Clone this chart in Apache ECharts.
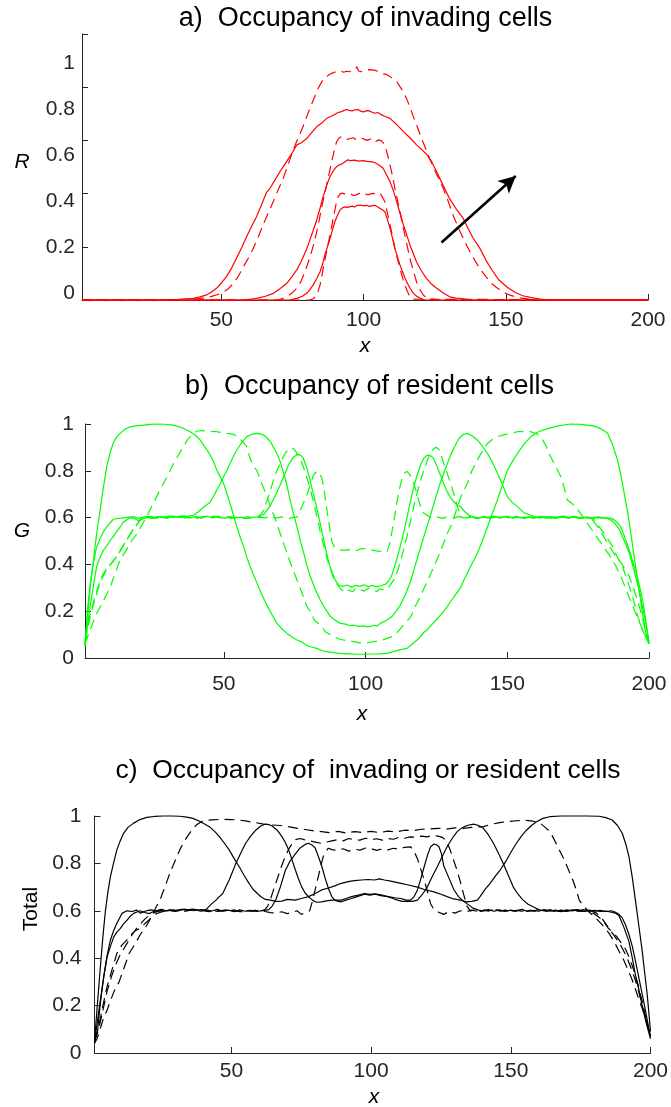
<!DOCTYPE html>
<html>
<head>
<meta charset="utf-8">
<script src="https://cdn.jsdelivr.net/npm/echarts@6/dist/echarts.min.js"></script>
<style>
html,body{margin:0;padding:0;background:#fff;}
#chart{width:671px;height:1107px;}
</style>
</head>
<body>
<div id="chart"></div>
<script>
// ---------- tick values ----------
const xTickValues = [50, 100, 150, 200];
const yTickValues = [0, 0.2, 0.4, 0.6, 0.8, 1];

// ---------- titles / axis names ----------
const titles = ['a)  Occupancy of invading cells', 'b)  Occupancy of resident cells', 'c)  Occupancy of  invading or resident cells'];
const yNames = ['R', 'G', 'Total'];
const xName = 'x';

// ---------- panel a : R (invading cells), [x, value] ----------
const R_t1_solid = [[1,0],[74,0],[76.5,0.006],[78.5,0.014],[80,0.025],[81.2,0.04],[82.3,0.057],[83.5,0.08],[84.7,0.106],[85.6,0.136],[86.4,0.17],[87.3,0.2],[88.2,0.231],[89,0.262],[89.9,0.294],[90.8,0.318],[91.7,0.338],[92.5,0.346],[93.4,0.35],[94.3,0.348],[95,0.355],[96,0.353],[96.8,0.35],[97.8,0.356],[99,0.357],[100,0.354],[101,0.356],[102,0.352],[103,0.355],[104,0.356],[105,0.35],[105.8,0.344],[106.7,0.338],[107.5,0.332],[108.4,0.302],[109.3,0.269],[110.2,0.232],[111,0.194],[111.9,0.162],[112.8,0.132],[114,0.098],[115.1,0.069],[116.3,0.045],[117.5,0.025],[118.7,0.014],[119.8,0.007],[121,0.002],[122,0],[200,0]];
const R_t1_dashed = [[1,0],[81,0],[82.3,0.004],[83.5,0.019],[84.1,0.036],[84.7,0.057],[85.3,0.088],[85.8,0.119],[86.4,0.15],[87,0.182],[87.6,0.214],[88.2,0.245],[88.8,0.276],[89.3,0.307],[89.9,0.338],[90.5,0.369],[91.1,0.388],[91.7,0.398],[92.5,0.402],[93.5,0.398],[94.5,0.396],[95.5,0.399],[96.5,0.392],[97.5,0.396],[98.5,0.401],[99.5,0.397],[100.5,0.4],[101.5,0.395],[102.5,0.399],[103.5,0.401],[104.5,0.393],[105.2,0.39],[106,0.398],[106.7,0.385],[107.5,0.369],[108.4,0.326],[109.3,0.283],[110.2,0.238],[111,0.194],[111.9,0.155],[112.8,0.119],[113.6,0.088],[114.5,0.057],[115.4,0.032],[116.3,0.012],[117.3,0.003],[118,0],[200,0]];
const R_t2_solid = [[1,0],[58,0],[62.4,0.006],[65.5,0.014],[68.3,0.025],[70.6,0.042],[72.9,0.062],[74.7,0.086],[76.5,0.113],[77.7,0.137],[78.8,0.163],[80,0.192],[81.1,0.225],[82.3,0.262],[83.5,0.3],[84.7,0.345],[85.8,0.389],[87,0.43],[88.2,0.464],[89.3,0.485],[90.5,0.501],[91.5,0.508],[92.5,0.512],[93.5,0.52],[94.5,0.527],[95.3,0.524],[96,0.521],[96.8,0.526],[97.5,0.527],[98.3,0.522],[99,0.52],[99.8,0.524],[100.5,0.525],[101.3,0.521],[102,0.523],[103,0.519],[104,0.516],[105,0.51],[106,0.503],[106.9,0.495],[108,0.472],[109.3,0.445],[110.5,0.41],[111.6,0.371],[112.8,0.327],[114,0.283],[115.2,0.244],[116.3,0.207],[117.5,0.174],[118.6,0.144],[120.3,0.11],[122.1,0.081],[123.9,0.06],[125.7,0.044],[128,0.026],[130.3,0.012],[132.5,0.007],[135,0.004],[138,0],[200,0]];
const R_t2_dashed = [[1,0],[70,0],[73,0.012],[74.8,0.026],[76.5,0.044],[78,0.07],[79.4,0.106],[80.5,0.14],[81.7,0.181],[82.6,0.215],[83.5,0.256],[84.4,0.3],[85.2,0.345],[86.1,0.39],[87,0.433],[87.9,0.477],[88.8,0.52],[89.6,0.558],[90.5,0.595],[91.3,0.608],[92.3,0.614],[93.3,0.608],[94.3,0.604],[95.3,0.607],[96.3,0.61],[97.3,0.603],[98.3,0.606],[99.3,0.609],[100.3,0.604],[101.3,0.6],[102.3,0.605],[103.3,0.607],[104.3,0.596],[105.3,0.602],[106.3,0.598],[107.5,0.583],[108.4,0.547],[109.3,0.507],[110.2,0.464],[111,0.42],[111.9,0.376],[112.8,0.332],[113.6,0.288],[114.5,0.245],[115.4,0.2],[116.3,0.156],[117.5,0.11],[118.6,0.069],[119.8,0.04],[121,0.018],[122.5,0.008],[124,0.004],[126,0],[200,0]];
const R_t3_solid = [[1,0],[30,0],[35,0.002],[40.1,0.006],[42.5,0.012],[44.8,0.019],[46.5,0.03],[48.3,0.044],[50,0.064],[51.8,0.088],[53.6,0.12],[55.4,0.159],[57.2,0.198],[58.9,0.239],[60.6,0.276],[62.4,0.314],[64.2,0.36],[65.9,0.405],[67.1,0.42],[68.5,0.445],[70.6,0.482],[72.3,0.51],[74.1,0.54],[75.3,0.56],[76.5,0.583],[78,0.59],[80,0.607],[81.8,0.63],[83.5,0.651],[85.3,0.665],[87,0.683],[88.5,0.69],[90,0.698],[91,0.705],[92,0.707],[93,0.712],[94,0.716],[95,0.713],[96,0.711],[97,0.715],[98,0.716],[99,0.71],[100,0.707],[101,0.712],[102,0.711],[103,0.706],[104,0.702],[105,0.705],[106,0.698],[107.6,0.69],[109.3,0.683],[111.6,0.66],[114,0.633],[116.3,0.61],[118.6,0.583],[120.3,0.567],[122.1,0.548],[123.9,0.52],[125.7,0.482],[128,0.43],[130.3,0.38],[132.6,0.342],[135,0.307],[136.7,0.27],[138.4,0.235],[140.9,0.194],[143,0.15],[145.3,0.11],[147.6,0.075],[150.5,0.048],[153.5,0.027],[156,0.016],[159,0.009],[163,0.002],[166,0],[200,0]];
const R_t3_dashed = [[1,0],[38,0],[42,0.005],[46,0.012],[50.1,0.025],[52.2,0.04],[54.2,0.062],[56,0.09],[57.7,0.124],[59.5,0.158],[61.2,0.194],[63,0.238],[64.7,0.283],[66.5,0.327],[68.3,0.371],[70,0.415],[71.8,0.459],[73.5,0.51],[75.3,0.565],[77,0.61],[78.8,0.654],[80.5,0.703],[82.3,0.751],[84,0.795],[85.8,0.83],[87,0.84],[88,0.848],[89,0.853],[90,0.857],[91,0.86],[92,0.861],[93,0.856],[94,0.86],[95,0.858],[96,0.863],[97,0.867],[97.6,0.877],[98.2,0.862],[99,0.858],[100,0.86],[101,0.862],[102,0.866],[103,0.865],[104,0.863],[105,0.86],[106,0.856],[107,0.85],[108,0.848],[109.3,0.84],[110.5,0.83],[111.6,0.822],[113.4,0.792],[115.1,0.758],[116.8,0.71],[118.6,0.658],[120.9,0.594],[123.3,0.53],[125.6,0.475],[128,0.42],[129.8,0.37],[131.5,0.318],[133.8,0.26],[136.2,0.206],[138.5,0.16],[140.9,0.118],[143,0.088],[145,0.062],[147,0.045],[149,0.031],[151,0.02],[153,0.013],[155,0.008],[157,0.005],[160,0],[200,0]];
const arrowFrom = [127.4, 0.216];
const arrowTo = [153.5, 0.466];

// ---------- panel b : G (resident cells) ----------
const G_t1_solid = [[1,0.05],[2,0.22],[3,0.33],[4,0.41],[5,0.47],[6.3,0.51],[7.5,0.54],[8.7,0.56],[10,0.58],[11,0.593],[12.5,0.597],[14,0.598],[16,0.601],[18,0.604],[20,0.597],[22,0.603],[24,0.606],[26,0.598],[28,0.604],[30,0.6],[32,0.607],[34,0.601],[36,0.605],[38,0.598],[40,0.604],[42,0.6],[44,0.606],[46,0.599],[48,0.603],[50,0.597],[52,0.604],[54,0.599],[56,0.602],[58,0.596],[60,0.601],[61.5,0.603],[62.8,0.605],[64.5,0.62],[66.3,0.65],[68,0.69],[69.9,0.74],[71.5,0.785],[72.8,0.825],[74.3,0.855],[75.8,0.87],[77,0.868],[78,0.855],[79.3,0.81],[80.2,0.77],[81.1,0.725],[82,0.68],[82.8,0.64],[83.7,0.59],[84.6,0.54],[85.5,0.49],[86.4,0.44],[87.2,0.4],[88.1,0.369],[89.2,0.335],[90.5,0.312],[92,0.306],[93.5,0.312],[95,0.303],[96.5,0.31],[98,0.306],[99.5,0.313],[101,0.305],[102.5,0.31],[104,0.304],[105.5,0.31],[107,0.315],[107.6,0.319],[108.5,0.335],[109.3,0.355],[110.2,0.39],[111.1,0.426],[112.3,0.48],[113.5,0.54],[114.7,0.605],[115.8,0.668],[117,0.73],[118.2,0.782],[119.4,0.825],[120.5,0.853],[121.5,0.865],[122.3,0.867],[123.2,0.862],[124,0.853],[125.2,0.82],[126.4,0.782],[127.6,0.745],[128.8,0.71],[130,0.685],[131.1,0.668],[132.3,0.655],[133.5,0.647],[135,0.625],[136.5,0.61],[138,0.603],[140,0.599],[142,0.604],[144,0.597],[146,0.603],[148,0.6],[150,0.606],[152,0.598],[154,0.603],[156,0.596],[158,0.602],[160,0.599],[162,0.605],[164,0.598],[166,0.603],[168,0.6],[170,0.606],[172,0.599],[174,0.604],[176,0.597],[178,0.602],[180,0.599],[182,0.603],[184,0.6],[186,0.598],[187,0.596],[188.7,0.58],[190,0.56],[191.3,0.52],[192.5,0.48],[193.6,0.44],[194.8,0.39],[196,0.34],[197,0.29],[197.7,0.25],[198.5,0.19],[199.3,0.12],[200,0.06]];
const G_t2_solid = [[1,0.05],[2,0.15],[2.8,0.22],[4,0.31],[5.1,0.39],[6.3,0.43],[7.5,0.46],[8.7,0.48],[9.8,0.5],[11,0.52],[12.2,0.54],[13.4,0.56],[14.5,0.58],[15.7,0.59],[16.9,0.6],[18.5,0.595],[20,0.587],[21.5,0.595],[23,0.601],[25,0.597],[27,0.604],[29,0.599],[31,0.606],[33,0.602],[35,0.607],[37,0.605],[39.3,0.61],[41,0.625],[42.8,0.645],[44,0.655],[45.2,0.667],[46.3,0.69],[47.5,0.718],[48.7,0.745],[49.9,0.775],[51,0.8],[52.2,0.832],[53.4,0.862],[54.6,0.89],[56.3,0.92],[58.1,0.946],[60,0.957],[61.7,0.96],[63,0.958],[64,0.953],[65.2,0.94],[66.4,0.925],[67.5,0.9],[68.7,0.875],[70,0.835],[71.1,0.79],[72.3,0.735],[73.4,0.675],[74.6,0.615],[75.8,0.56],[77,0.5],[78.2,0.447],[79.3,0.395],[80.5,0.348],[82.2,0.295],[84,0.248],[85.8,0.21],[87.6,0.177],[89.4,0.16],[91.1,0.148],[93,0.145],[94.5,0.138],[95.8,0.141],[97.5,0.135],[99.3,0.137],[101,0.133],[103,0.14],[104,0.137],[105.2,0.148],[107.3,0.16],[109.3,0.177],[110.8,0.2],[112.3,0.227],[114,0.27],[115.8,0.326],[117.5,0.395],[119.3,0.468],[121.1,0.54],[122.9,0.61],[124.6,0.68],[126.4,0.75],[128.2,0.81],[130,0.867],[131.5,0.905],[132.9,0.938],[134.5,0.955],[135.9,0.96],[137.5,0.95],[139.4,0.932],[141.2,0.905],[143,0.875],[144.8,0.835],[146.5,0.79],[148.3,0.74],[150,0.69],[151.8,0.665],[153.6,0.647],[155.9,0.62],[157.7,0.612],[159.5,0.604],[161.5,0.598],[163.5,0.604],[165.5,0.597],[167.5,0.602],[169.5,0.606],[171.5,0.598],[173.5,0.603],[175.5,0.597],[177.5,0.601],[179.5,0.596],[181.5,0.6],[183.5,0.598],[185,0.597],[186.5,0.59],[188,0.575],[189.5,0.55],[191.3,0.5],[193,0.45],[194.8,0.37],[196.3,0.3],[197.7,0.22],[199,0.14],[200,0.07]];
const G_t3_solid = [[1,0.06],[2,0.2],[3,0.32],[4,0.42],[5.1,0.53],[6.3,0.63],[7.5,0.73],[8.7,0.82],[9.8,0.875],[11,0.92],[12.2,0.945],[13.4,0.96],[15,0.977],[16.9,0.988],[19,0.992],[21.6,0.995],[24,0.998],[26.3,1],[29,0.999],[32.2,0.995],[35,0.985],[38.1,0.967],[40,0.952],[41.6,0.932],[43.4,0.9],[45.2,0.868],[46.3,0.84],[47.5,0.803],[48.7,0.775],[49.9,0.746],[51,0.705],[52.2,0.66],[53.4,0.61],[54.6,0.56],[55.8,0.515],[57,0.476],[58.1,0.43],[59.3,0.39],[60.5,0.355],[61.7,0.32],[63.4,0.27],[65.2,0.225],[67,0.185],[68.7,0.148],[70.5,0.125],[72.3,0.105],[74,0.09],[75.8,0.077],[77.5,0.068],[79,0.055],[80.5,0.048],[82.8,0.041],[85,0.03],[86.4,0.027],[88.7,0.023],[91,0.02],[94,0.018],[97,0.016],[99.3,0.016],[102,0.017],[105,0.018],[107.6,0.02],[110,0.028],[112,0.035],[114.6,0.041],[116.5,0.06],[118.5,0.08],[120.6,0.11],[121.7,0.12],[123.5,0.145],[125.5,0.17],[127.6,0.2],[128.8,0.22],[130.5,0.25],[132,0.275],[133.5,0.3],[134.7,0.333],[137,0.39],[139.4,0.447],[141.2,0.5],[143,0.56],[144.8,0.62],[146.5,0.675],[148.3,0.74],[150,0.8],[151.8,0.84],[153.6,0.875],[156,0.915],[158.3,0.946],[161,0.967],[164.2,0.98],[168,0.992],[172.4,1],[176,0.998],[180.7,0.991],[183,0.98],[185.4,0.96],[187.2,0.91],[188.9,0.846],[190.1,0.78],[191.3,0.7],[192.5,0.62],[193.6,0.532],[194.8,0.43],[196,0.33],[196.9,0.26],[197.7,0.19],[198.5,0.13],[199.3,0.08],[200,0.06]];
const G_t1_dashed = [[1,0.08],[2.5,0.17],[4,0.24],[5.5,0.3],[7,0.35],[8.5,0.38],[10,0.4],[10.8,0.41],[12,0.43],[13.5,0.46],[15,0.49],[16.5,0.52],[18,0.55],[19.5,0.575],[21,0.6],[22.5,0.603],[24.5,0.597],[26.5,0.604],[28.5,0.599],[30.5,0.606],[32.5,0.6],[34.5,0.605],[36.5,0.598],[38.5,0.603],[40.5,0.597],[42.5,0.604],[44.5,0.6],[46.5,0.607],[48.5,0.599],[50.5,0.603],[52.5,0.596],[54.5,0.601],[56.5,0.598],[58.5,0.604],[60.5,0.597],[62.5,0.602],[64.5,0.599],[66.5,0.606],[68.5,0.598],[70.5,0.603],[72.5,0.595],[74,0.6],[75.8,0.602],[77.5,0.645],[79.3,0.697],[80.5,0.74],[81.6,0.782],[82.8,0.798],[83.7,0.79],[84.6,0.768],[85.2,0.73],[85.8,0.682],[86.4,0.63],[87,0.583],[87.6,0.535],[88.1,0.497],[89,0.475],[89.9,0.468],[91,0.462],[92.3,0.46],[94,0.463],[95.5,0.458],[97,0.46],[98.3,0.466],[99.3,0.468],[101,0.465],[102.8,0.46],[104.5,0.457],[106,0.455],[107.6,0.454],[108.5,0.49],[109.3,0.54],[110.2,0.6],[111.1,0.668],[112,0.725],[112.9,0.768],[113.8,0.79],[114.6,0.798],[115.5,0.785],[116.4,0.768],[117.3,0.735],[118.2,0.697],[119.1,0.66],[120,0.625],[121.7,0.61],[123,0.6],[125,0.604],[127,0.597],[129,0.603],[131,0.598],[133,0.605],[135,0.6],[137,0.604],[139,0.597],[141,0.603],[143,0.599],[145,0.606],[147,0.6],[149,0.604],[151,0.597],[153,0.602],[155,0.599],[157,0.605],[159,0.598],[161,0.603],[163,0.6],[165,0.604],[167,0.597],[169,0.602],[171,0.599],[173,0.603],[175,0.598],[177,0.601],[178.5,0.6],[179.5,0.598],[181,0.575],[182.5,0.55],[184,0.52],[185.5,0.49],[187,0.46],[188.5,0.43],[190,0.41],[191.5,0.38],[193,0.35],[194.5,0.3],[196,0.245],[197.5,0.18],[199,0.11],[200,0.07]];
const G_t2_dashed = [[1,0.07],[2.5,0.16],[4,0.23],[5.5,0.29],[7,0.34],[8.5,0.375],[10,0.4],[11.5,0.425],[13,0.45],[14.5,0.48],[16,0.51],[17.5,0.54],[19,0.565],[20.5,0.59],[22,0.6],[24,0.604],[26,0.598],[28,0.603],[30,0.597],[32,0.605],[34,0.6],[36,0.606],[38,0.599],[40,0.603],[42,0.598],[44,0.604],[46,0.6],[48,0.606],[50,0.598],[52,0.603],[54,0.597],[56,0.602],[58,0.596],[60,0.601],[62,0.603],[63,0.615],[64,0.63],[65,0.665],[66,0.7],[67,0.74],[68,0.78],[69.3,0.815],[70.5,0.85],[71.8,0.878],[73,0.895],[74,0.898],[75,0.89],[76,0.87],[76.9,0.854],[78.1,0.815],[79.3,0.77],[80.5,0.72],[81.6,0.668],[82.8,0.605],[84,0.54],[85.2,0.48],[86.4,0.426],[87.6,0.38],[88.7,0.34],[90,0.315],[91.1,0.297],[92.8,0.278],[94,0.29],[95.5,0.283],[96.5,0.3],[98,0.292],[99.5,0.286],[101,0.298],[102.5,0.29],[104,0.284],[105,0.296],[106.5,0.29],[107.9,0.297],[109,0.318],[110.3,0.34],[111.5,0.38],[112.6,0.426],[113.8,0.48],[115,0.54],[116.2,0.605],[117.4,0.668],[118.5,0.72],[119.7,0.77],[120.9,0.815],[122.1,0.854],[123,0.875],[124.1,0.895],[125,0.9],[126,0.89],[127.6,0.83],[128.8,0.79],[130,0.745],[131.2,0.7],[132.4,0.647],[133.2,0.62],[134.1,0.6],[135.5,0.598],[137.5,0.604],[139.5,0.597],[141.5,0.603],[143.5,0.599],[145.5,0.605],[147.5,0.598],[149.5,0.604],[151.5,0.6],[153.5,0.606],[155.5,0.598],[157.5,0.603],[159.5,0.597],[161.5,0.602],[163.5,0.599],[165.5,0.604],[167.5,0.598],[169.5,0.603],[171.5,0.6],[173.5,0.605],[175.5,0.598],[177.5,0.602],[179,0.6],[180.7,0.59],[182.5,0.56],[184,0.535],[185.4,0.51],[187,0.48],[188.9,0.43],[190.5,0.395],[192.4,0.33],[194,0.27],[196,0.18],[198,0.11],[200,0.07]];
const G_t3_dashed = [[1,0.06],[1.6,0.08],[3.3,0.135],[5.1,0.19],[7.5,0.245],[9.8,0.3],[11.6,0.36],[13.4,0.42],[15.5,0.46],[17.4,0.5],[19.3,0.53],[21.4,0.575],[23.4,0.62],[25.5,0.67],[27.5,0.72],[30,0.775],[32.2,0.83],[34.6,0.88],[37,0.93],[38.8,0.955],[40.5,0.97],[43,0.972],[45,0.968],[47.5,0.967],[50,0.962],[53.4,0.956],[55.8,0.935],[57,0.92],[58.1,0.903],[59.3,0.85],[60.5,0.82],[61.7,0.8],[63.4,0.745],[65.2,0.69],[67,0.63],[68.7,0.575],[70.5,0.51],[72.3,0.447],[74,0.39],[75.8,0.333],[77.5,0.28],[79.3,0.22],[80.5,0.2],[82,0.16],[84,0.141],[86,0.11],[88.7,0.091],[91,0.08],[93,0.075],[95.8,0.07],[98,0.065],[100.5,0.065],[103,0.07],[105.5,0.075],[107.6,0.084],[109,0.09],[110.5,0.1],[112.3,0.126],[114,0.15],[115.9,0.175],[117.5,0.22],[119.4,0.265],[121.7,0.326],[124.1,0.39],[126.4,0.455],[128.8,0.532],[130.5,0.575],[132.4,0.647],[134,0.7],[135.9,0.746],[137.5,0.8],[139.4,0.846],[141,0.88],[143,0.917],[144.8,0.935],[146.5,0.946],[150,0.958],[153.6,0.967],[156,0.967],[158.3,0.967],[160,0.96],[161.8,0.946],[163.5,0.91],[165.3,0.86],[167,0.82],[168.9,0.775],[170,0.73],[171.2,0.675],[172.8,0.66],[174.2,0.647],[176,0.615],[178,0.58],[180,0.545],[182,0.51],[184,0.475],[186,0.44],[188,0.4],[190,0.35],[192,0.29],[194,0.23],[196,0.17],[198,0.115],[200,0.06]];

// ---------- panel c : Total ----------
const T_t1_solid = [[1,0.05],[2,0.083],[3.1,0.21],[4.3,0.322],[5.5,0.41],[6.7,0.477],[7.8,0.515],[9,0.547],[10,0.57],[10.8,0.589],[12.6,0.6],[14.5,0.597],[16,0.603],[17.5,0.59],[19,0.598],[21,0.604],[23,0.6],[25,0.606],[27,0.599],[29,0.604],[31,0.601],[33,0.607],[35,0.603],[37,0.605],[39,0.598],[41,0.604],[43,0.599],[45,0.606],[47,0.598],[49,0.603],[51,0.596],[53,0.604],[55,0.598],[57,0.602],[59,0.597],[61,0.601],[62.5,0.603],[63.4,0.605],[64.6,0.62],[66,0.65],[67.5,0.7],[69.3,0.77],[71,0.81],[72.9,0.84],[74.6,0.865],[76.4,0.88],[77.6,0.885],[78.8,0.878],[80,0.865],[81.1,0.83],[82.3,0.79],[83.5,0.74],[84.7,0.695],[85.9,0.66],[87,0.645],[88.2,0.64],[89.4,0.638],[91,0.645],[93,0.652],[95,0.66],[97.7,0.67],[99.5,0.666],[101.5,0.67],[103.5,0.664],[106,0.66],[108.5,0.655],[110.7,0.652],[112.5,0.645],[114.2,0.645],[115.4,0.66],[116.6,0.688],[117.8,0.735],[119,0.786],[120.2,0.835],[121.3,0.87],[122.5,0.882],[123.5,0.878],[124.3,0.87],[125.2,0.84],[126,0.79],[127.8,0.74],[129.6,0.69],[131.3,0.66],[133.1,0.64],[134.9,0.625],[136.7,0.61],[138.5,0.603],[140,0.6],[142,0.605],[144,0.598],[146,0.604],[148,0.597],[150,0.603],[152,0.599],[154,0.606],[156,0.597],[158,0.602],[160,0.598],[162,0.605],[164,0.599],[166,0.603],[168,0.596],[170,0.604],[172,0.6],[174,0.605],[176,0.597],[178,0.603],[180,0.599],[182,0.602],[184,0.597],[186,0.6],[187.5,0.594],[188.7,0.585],[189.9,0.57],[191.1,0.54],[192.3,0.5],[193.5,0.45],[194.6,0.39],[195.8,0.32],[197,0.25],[198.2,0.18],[199.3,0.11],[200,0.07]];
const T_t2_solid = [[1,0.05],[2,0.13],[3.1,0.223],[4.3,0.32],[5.5,0.406],[6.7,0.45],[7.9,0.49],[9,0.51],[10.2,0.525],[11.4,0.545],[12.6,0.56],[13.8,0.577],[15,0.589],[16.2,0.595],[17.3,0.6],[19,0.593],[20.5,0.588],[22,0.596],[24,0.602],[26,0.598],[28,0.604],[30,0.6],[32,0.606],[34,0.603],[36,0.607],[38,0.604],[40.9,0.605],[42.5,0.625],[44.5,0.645],[45.7,0.66],[46.9,0.673],[48,0.7],[49.2,0.73],[50.4,0.765],[51.6,0.8],[53.4,0.845],[55.1,0.885],[56.9,0.915],[58.7,0.94],[60.5,0.958],[62.2,0.966],[63.4,0.964],[64.6,0.958],[66.4,0.94],[68.1,0.913],[69.3,0.888],[70.5,0.857],[71.7,0.815],[72.9,0.772],[74,0.735],[75.2,0.7],[76.4,0.675],[77.6,0.66],[79,0.645],[80,0.638],[81,0.636],[82.3,0.638],[84,0.642],[85.9,0.645],[87.5,0.645],[89.4,0.645],[91,0.652],[93,0.66],[95,0.665],[97.7,0.673],[99.5,0.669],[101.5,0.672],[103.5,0.667],[106,0.66],[107.8,0.652],[109.5,0.645],[111.2,0.64],[113,0.64],[114.8,0.64],[116.6,0.645],[118.4,0.67],[120.1,0.7],[121.9,0.745],[123.7,0.786],[125.5,0.83],[127.2,0.87],[129,0.905],[130.8,0.934],[132.5,0.95],[134.3,0.96],[136.7,0.966],[138.5,0.96],[140.2,0.948],[142,0.92],[143.8,0.885],[145.5,0.845],[147.3,0.8],[149.1,0.75],[150.9,0.7],[152.6,0.67],[154.4,0.645],[156.2,0.628],[158,0.617],[160,0.605],[162,0.599],[164,0.604],[166,0.598],[168,0.603],[170,0.597],[172,0.604],[174,0.6],[176,0.605],[178,0.598],[180,0.602],[182,0.597],[184,0.599],[186,0.594],[187.5,0.59],[188.7,0.58],[190.5,0.53],[192.3,0.47],[193.5,0.4],[194.6,0.33],[195.8,0.27],[197,0.2],[198.2,0.14],[199.3,0.09],[200,0.06]];
const T_t3_solid = [[1,0.05],[2,0.2],[3.1,0.364],[4,0.49],[4.9,0.6],[5.8,0.68],[6.7,0.744],[7.8,0.8],[9,0.857],[10.2,0.895],[11.4,0.927],[13,0.952],[15,0.97],[17.3,0.985],[19.7,0.994],[22.5,0.998],[25.6,1],[28.5,1],[31.5,0.999],[34,0.995],[36.2,0.99],[38.6,0.978],[40.4,0.966],[42.1,0.955],[44,0.935],[45.7,0.913],[47.5,0.885],[49.2,0.857],[51,0.82],[52.8,0.786],[54.5,0.75],[56.3,0.716],[57.8,0.69],[59.3,0.673],[60.8,0.657],[62.2,0.648],[64,0.645],[66,0.64],[68.1,0.641],[70,0.648],[72.9,0.645],[75,0.652],[77.6,0.66],[80,0.673],[82.3,0.688],[84.5,0.695],[87,0.705],[89,0.715],[91.8,0.723],[94,0.727],[96.5,0.73],[98.9,0.732],[101.2,0.73],[103,0.735],[104.8,0.73],[107,0.725],[110.7,0.716],[113,0.71],[116.6,0.7],[119,0.69],[122.5,0.68],[125,0.67],[127.2,0.66],[129.5,0.65],[132,0.645],[134,0.638],[136,0.64],[138,0.645],[139,0.66],[140.8,0.69],[142.6,0.716],[144.4,0.745],[146.2,0.772],[148.5,0.814],[150.2,0.85],[152,0.885],[153.8,0.915],[155.6,0.94],[157.4,0.96],[159.2,0.976],[161.5,0.99],[163.9,0.997],[168,1],[172.2,1],[177,1],[181.6,0.999],[184,0.993],[186.3,0.983],[188.2,0.96],[189.9,0.927],[191.2,0.88],[192.3,0.828],[193.5,0.74],[194.6,0.645],[195.8,0.54],[197,0.434],[198,0.33],[198.8,0.25],[199.5,0.16],[200,0.09]];
const T_t1_dashed = [[1,0.06],[2.5,0.11],[4,0.2],[5.5,0.28],[7,0.34],[8,0.38],[9,0.42],[10.8,0.455],[12.6,0.477],[13.8,0.495],[15,0.51],[16.2,0.52],[17.3,0.525],[18.5,0.54],[19.7,0.553],[21,0.567],[22,0.58],[23.2,0.588],[24.4,0.593],[26,0.598],[28,0.603],[30,0.597],[32,0.604],[34,0.599],[36,0.605],[38,0.598],[40,0.602],[42,0.596],[44,0.603],[46,0.598],[48,0.604],[50,0.597],[52,0.601],[54,0.595],[56,0.602],[58,0.598],[60,0.603],[62,0.597],[64,0.592],[66,0.59],[68,0.596],[70,0.588],[72,0.594],[73.5,0.6],[75,0.585],[76.5,0.592],[78,0.6],[79,0.64],[80,0.69],[81.1,0.744],[82,0.79],[82.9,0.83],[83.8,0.85],[84.7,0.864],[86,0.858],[88,0.855],[90,0.862],[92,0.852],[94,0.86],[96,0.856],[98,0.865],[100,0.862],[102,0.855],[104,0.862],[106,0.857],[108,0.864],[110,0.86],[112,0.868],[114.2,0.87],[115.4,0.85],[116.6,0.82],[117.8,0.775],[119,0.73],[120.2,0.68],[121.3,0.63],[122.5,0.605],[124,0.595],[126,0.585],[128,0.598],[130,0.59],[132,0.6],[134,0.596],[136,0.603],[138,0.598],[140,0.604],[142,0.599],[144,0.605],[146,0.598],[148,0.603],[150,0.597],[152,0.602],[154,0.598],[156,0.604],[158,0.599],[160,0.605],[162,0.598],[164,0.603],[166,0.597],[168,0.602],[170,0.598],[172,0.603],[174,0.599],[176,0.598],[177,0.598],[178.6,0.593],[179.8,0.588],[181,0.578],[182.3,0.565],[183.5,0.55],[185,0.525],[186.5,0.51],[188,0.49],[189.5,0.465],[191,0.44],[192.5,0.4],[194,0.35],[195.5,0.29],[197,0.22],[198.5,0.14],[200,0.07]];
const T_t2_dashed = [[1,0.05],[2.5,0.1],[4,0.18],[5.5,0.26],[7,0.32],[8.5,0.37],[10,0.41],[11.5,0.44],[13,0.47],[14.5,0.5],[16,0.525],[17.5,0.545],[19,0.565],[20.5,0.58],[22,0.59],[23.5,0.597],[25,0.6],[27,0.604],[29,0.598],[31,0.603],[33,0.597],[35,0.604],[37,0.599],[39,0.605],[41,0.598],[43,0.603],[45,0.597],[47,0.602],[49,0.599],[51,0.604],[53,0.596],[55,0.601],[57,0.598],[59,0.603],[61,0.6],[62,0.605],[63,0.62],[64,0.65],[65,0.685],[66,0.72],[67,0.755],[68,0.79],[69.3,0.83],[70.5,0.86],[71.8,0.885],[73,0.9],[74.5,0.905],[76,0.9],[78,0.895],[80,0.89],[82,0.885],[84,0.89],[86,0.895],[88,0.9],[90,0.895],[92,0.905],[94,0.9],[96,0.898],[98,0.906],[100,0.9],[102,0.904],[104,0.898],[106,0.905],[108,0.902],[110,0.91],[112,0.906],[114,0.912],[116,0.91],[118,0.915],[120,0.912],[122,0.918],[124,0.915],[125.5,0.91],[127,0.895],[128.2,0.86],[129.5,0.815],[130.8,0.77],[132,0.72],[133.1,0.67],[134.3,0.62],[135.5,0.6],[137,0.603],[139,0.597],[141,0.602],[143,0.598],[145,0.604],[147,0.599],[149,0.605],[151,0.598],[153,0.603],[155,0.597],[157,0.602],[159,0.599],[161,0.604],[163,0.598],[165,0.603],[167,0.597],[169,0.602],[171,0.598],[173,0.604],[175,0.599],[177,0.601],[179,0.598],[180.7,0.59],[182.5,0.57],[184,0.545],[185.5,0.52],[187,0.495],[188.5,0.47],[190,0.44],[191.5,0.405],[193,0.36],[194.5,0.31],[196,0.25],[197.5,0.18],[199,0.11],[200,0.07]];
const T_t3_dashed = [[1,0.04],[1.9,0.06],[3,0.1],[4.3,0.15],[5.5,0.18],[6.7,0.22],[8,0.26],[9.8,0.3],[11.6,0.36],[13.4,0.42],[15.5,0.46],[17.4,0.5],[19.3,0.53],[21.4,0.575],[23,0.615],[24.4,0.645],[26.2,0.7],[28,0.76],[29.8,0.81],[31.5,0.857],[33.2,0.895],[35,0.927],[37.4,0.962],[39.8,0.98],[43,0.984],[46.9,0.986],[50,0.985],[52.8,0.983],[55.5,0.978],[58.7,0.972],[61.5,0.966],[64.6,0.962],[67.5,0.96],[70.5,0.955],[73.5,0.948],[76.4,0.943],[79.5,0.937],[82.3,0.934],[85,0.93],[88.2,0.935],[91,0.928],[94.2,0.934],[97,0.93],[100,0.935],[103,0.93],[106,0.936],[109,0.933],[112,0.94],[115,0.938],[118,0.944],[121,0.945],[124,0.948],[127,0.945],[130,0.95],[133,0.948],[136,0.952],[140.2,0.955],[143,0.965],[146,0.972],[149,0.977],[152,0.98],[155,0.982],[158,0.978],[160.3,0.972],[162,0.955],[163.5,0.94],[165,0.913],[166.8,0.87],[168.6,0.828],[170.4,0.78],[172.2,0.73],[173.4,0.69],[174.5,0.645],[176,0.62],[178,0.595],[180,0.575],[182,0.55],[183.5,0.53],[185.2,0.505],[187,0.47],[188.7,0.43],[190.5,0.39],[192,0.35],[193.4,0.31],[194.6,0.27],[196,0.22],[197,0.19],[198.2,0.15],[199.2,0.11],[200,0.07]];

// ---------- drawing ----------
const FONT = '"Liberation Sans", Arial, Helvetica, sans-serif';
const AX = '#262626';
const DASH = [10, 6];

function xAxisFor(gridIndex, labelMargin) {
  return {
    type: 'value', gridIndex, min: 1, max: 200, position: 'bottom',
    axisLine: {show: true, onZero: false, lineStyle: {color: AX, width: 1}},
    axisTick: {show: true, inside: true, length: 6, customValues: xTickValues, lineStyle: {color: AX}},
    axisLabel: {show: true, customValues: xTickValues, margin: labelMargin, color: AX, fontSize: 21, fontFamily: FONT},
    splitLine: {show: false}
  };
}
function yAxisFor(gridIndex, labelMargin, showLabels) {
  return {
    type: 'value', gridIndex, min: 0, max: 1, interval: 0.2, position: 'left',
    axisLine: {show: true, onZero: false, lineStyle: {color: AX, width: 1}},
    axisTick: {show: true, inside: true, length: 6, lineStyle: {color: AX}},
    axisLabel: {show: showLabels, margin: labelMargin, color: AX, fontSize: 21, fontFamily: FONT},
    splitLine: {show: false}
  };
}
function line(data, xi, yi, color, dashed) {
  return {
    type: 'line', xAxisIndex: xi, yAxisIndex: yi, data,
    showSymbol: false, symbol: 'none', clip: false, silent: true, animation: false,
    lineStyle: {color, width: 1.2, type: dashed ? DASH : 'solid'}, z: 3
  };
}

const series = [
  line(R_t1_solid, 0, 0, '#ff0000', false),
  line(R_t1_dashed, 0, 0, '#ff0000', true),
  line(R_t2_solid, 0, 0, '#ff0000', false),
  line(R_t2_dashed, 0, 0, '#ff0000', true),
  line(R_t3_solid, 0, 0, '#ff0000', false),
  line(R_t3_dashed, 0, 0, '#ff0000', true),
  line(G_t1_solid, 1, 2, '#00ff00', false),
  line(G_t1_dashed, 1, 2, '#00ff00', true),
  line(G_t2_solid, 1, 2, '#00ff00', false),
  line(G_t2_dashed, 1, 2, '#00ff00', true),
  line(G_t3_solid, 1, 2, '#00ff00', false),
  line(G_t3_dashed, 1, 2, '#00ff00', true),
  line(T_t1_solid, 2, 3, '#000000', false),
  line(T_t1_dashed, 2, 3, '#000000', true),
  line(T_t2_solid, 2, 3, '#000000', false),
  line(T_t2_dashed, 2, 3, '#000000', true),
  line(T_t3_solid, 2, 3, '#000000', false),
  line(T_t3_dashed, 2, 3, '#000000', true)
];
series[0].markLine = {
  silent: true, animation: false, symbol: ['none', 'arrow'], symbolSize: [13, 17],
  lineStyle: {color: '#000', width: 2.6, type: 'solid'}, label: {show: false},
  emphasis: {disabled: true},
  data: [[{coord: arrowFrom}, {coord: arrowTo}]]
};

function txt(text, x, y, size, opts) {
  opts = opts || {};
  return {
    type: 'text', x, y, rotation: opts.rotation || 0, silent: true,
    style: {text, fontSize: size, fontFamily: FONT, fontStyle: opts.italic ? 'italic' : 'normal',
      fill: opts.color || '#000', align: 'center', verticalAlign: 'middle'}
  };
}

const option = {
  backgroundColor: '#fff',
  animation: false,
  grid: [
    {left: 82, top: 34, width: 566, height: 266, containLabel: false},
    {left: 85, top: 424, width: 564, height: 234, containLabel: false},
    {left: 94.5, top: 816, width: 561, height: 237, containLabel: false}
  ],
  xAxis: [xAxisFor(0, 10), xAxisFor(1, 16), xAxisFor(2, 8)],
  yAxis: [
    yAxisFor(0, 7, false),
    {
      type: 'value', gridIndex: 0, min: -0.0304, max: 1.126, position: 'left', offset: 0,
      axisLine: {show: false, onZero: false}, axisTick: {show: false}, splitLine: {show: false},
      axisLabel: {show: true, customValues: yTickValues, margin: 7, color: AX, fontSize: 21, fontFamily: FONT}
    },
    yAxisFor(1, 11, true),
    yAxisFor(2, 13, true)
  ],
  series,
  graphic: [
    txt(titles[0], 365.5, 19, 27),
    txt(titles[1], 369.5, 387, 27),
    txt(titles[2], 368, 771, 26.5),
    txt(yNames[0], 22, 162, 21, {italic: true}),
    txt(yNames[1], 22, 531, 21, {italic: true}),
    txt(yNames[2], 31, 909, 21, {rotation: Math.PI / 2}),
    txt(xName, 365, 346, 21, {italic: true}),
    txt(xName, 362, 714, 21, {italic: true}),
    txt(xName, 374, 1097, 21, {italic: true})
  ]
};

const chart = echarts.init(document.getElementById('chart'), null, {renderer: 'canvas'});
chart.setOption(option);
</script>
</body>
</html>
